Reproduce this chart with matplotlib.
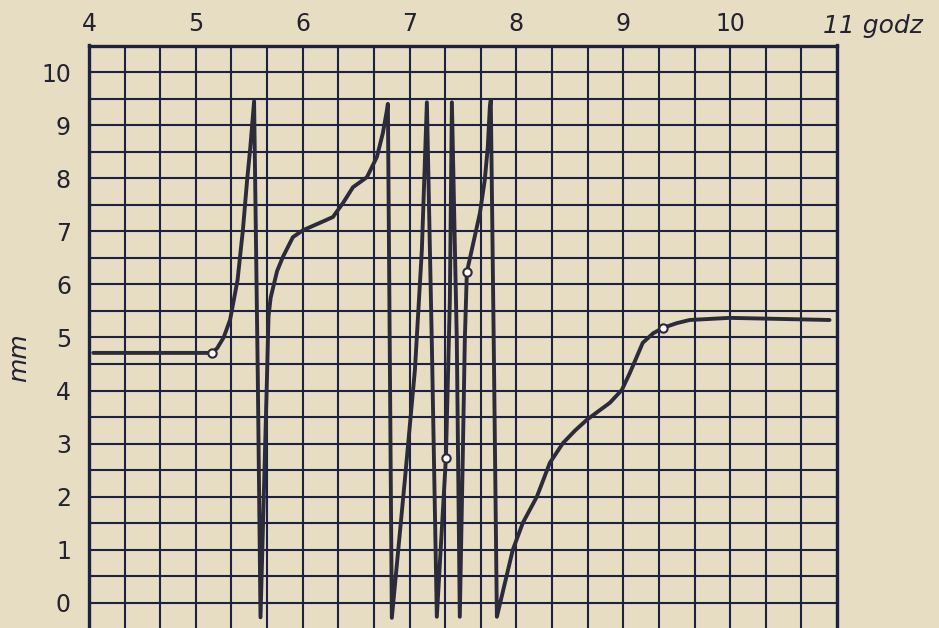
import matplotlib
matplotlib.use("Agg")
import matplotlib.pyplot as plt
import matplotlib.transforms as mtransforms
import numpy as np

# ---- data (hours, mm) ----
hours = [4.04, 5.15, 5.20, 5.26, 5.32, 5.39, 5.44, 5.48, 5.51, 5.545,
         5.58, 5.605,
         5.665, 5.68, 5.70, 5.76, 5.815, 5.908, 6.002, 6.161, 6.283, 6.376,
         6.470, 6.601, 6.694, 6.750, 6.788, 6.797,
         6.834,
         6.956, 7.050, 7.115, 7.162,
         7.209, 7.255,
         7.34, 7.377, 7.396,
         7.442, 7.47,
         7.499, 7.517, 7.536, 7.658, 7.704, 7.732, 7.751, 7.76,
         7.79, 7.817,
         7.966, 8.060, 8.191, 8.313, 8.435, 8.55, 8.659, 8.874, 8.986,
         9.061, 9.182, 9.28, 9.37, 9.50, 9.622, 9.996, 10.93]
mm = [4.71, 4.71, 4.80, 5.00, 5.33, 6.08, 7.02, 7.97, 8.59, 9.45,
      4.20, -0.27,
      4.20, 5.40, 5.75, 6.25, 6.52, 6.89, 7.02, 7.16, 7.27, 7.53,
      7.83, 8.02, 8.40, 8.85, 9.28, 9.40,
      -0.28,
      2.32, 4.39, 6.65, 9.43,
      4.82, -0.26,
      2.73, 5.71, 9.43,
      4.95, -0.26,
      2.88, 4.95, 6.23, 7.34, 7.97, 8.59, 9.34, 9.47,
      4.50, -0.26,
      1.00, 1.51, 2.00, 2.64, 3.01, 3.25, 3.45, 3.77, 4.01,
      4.33, 4.90, 5.08, 5.18, 5.27, 5.33, 5.37, 5.33]

# open circles marked on the curve
mark_hours = [5.15, 7.34, 7.536, 9.37]
mark_mm = [4.71, 2.73, 6.23, 5.18]

hour_ticks = [4, 5, 6, 7, 8, 9, 10, 11]
hour_labels = ["4", "5", "6", "7", "8", "9", "10", ""]
mm_ticks = list(range(0, 11))

paper = "#e6ddc2"
ink = "#1d2242"
curve = "#2b2b3b"

fig = plt.figure(figsize=(9.39, 6.28), dpi=100, facecolor=paper)
ax = fig.add_axes([89 / 939, 1 - 629.5 / 628, 748 / 939, 584 / 628])
ax.set_facecolor(paper)

ax.set_xlim(4, 11)
ax.set_ylim(-0.5, 10.5)

ax.set_xticks(hour_ticks)
ax.set_xticklabels(hour_labels)
ax.set_yticks(mm_ticks)
ax.set_yticklabels([str(v) for v in mm_ticks])

# grid: every 20 minutes and every 0.5 mm
ax.set_xticks(np.arange(4, 11.001, 1 / 3), minor=True)
ax.set_yticks(np.arange(-0.5, 10.501, 0.5), minor=True)
ax.grid(which="both", color=ink, lw=1.5)
ax.set_axisbelow(True)

ax.xaxis.tick_top()
ax.tick_params(which="both", length=0)
ax.tick_params(axis="x", pad=7, labelsize=17, labelcolor="#222230")
ax.tick_params(axis="y", pad=13, labelsize=17, labelcolor="#222230")

for s in ax.spines.values():
    s.set_color(ink)
    s.set_linewidth(2.4)

ax.plot(hours, mm, color=curve, lw=2.8, solid_joinstyle="round",
        solid_capstyle="round", zorder=3)
ax.plot(mark_hours, mark_mm, "o", ms=6, mfc="white", mec=curve, mew=1.5,
        zorder=4)

trans_x = mtransforms.blended_transform_factory(ax.transData, ax.transAxes)
ax.text(10.87, 1.0 + 20 / 584, "11 godz", transform=trans_x, ha="left",
        va="center", fontsize=18, style="italic", color="#222230")

trans_y = mtransforms.blended_transform_factory(ax.transAxes, ax.transData)
ax.text(-70 / 748, 4.63, "mm", transform=trans_y, rotation=90, ha="center",
        va="center", fontsize=18, style="italic", color="#222230")

fig.savefig("out.png", dpi=100, facecolor=paper)
